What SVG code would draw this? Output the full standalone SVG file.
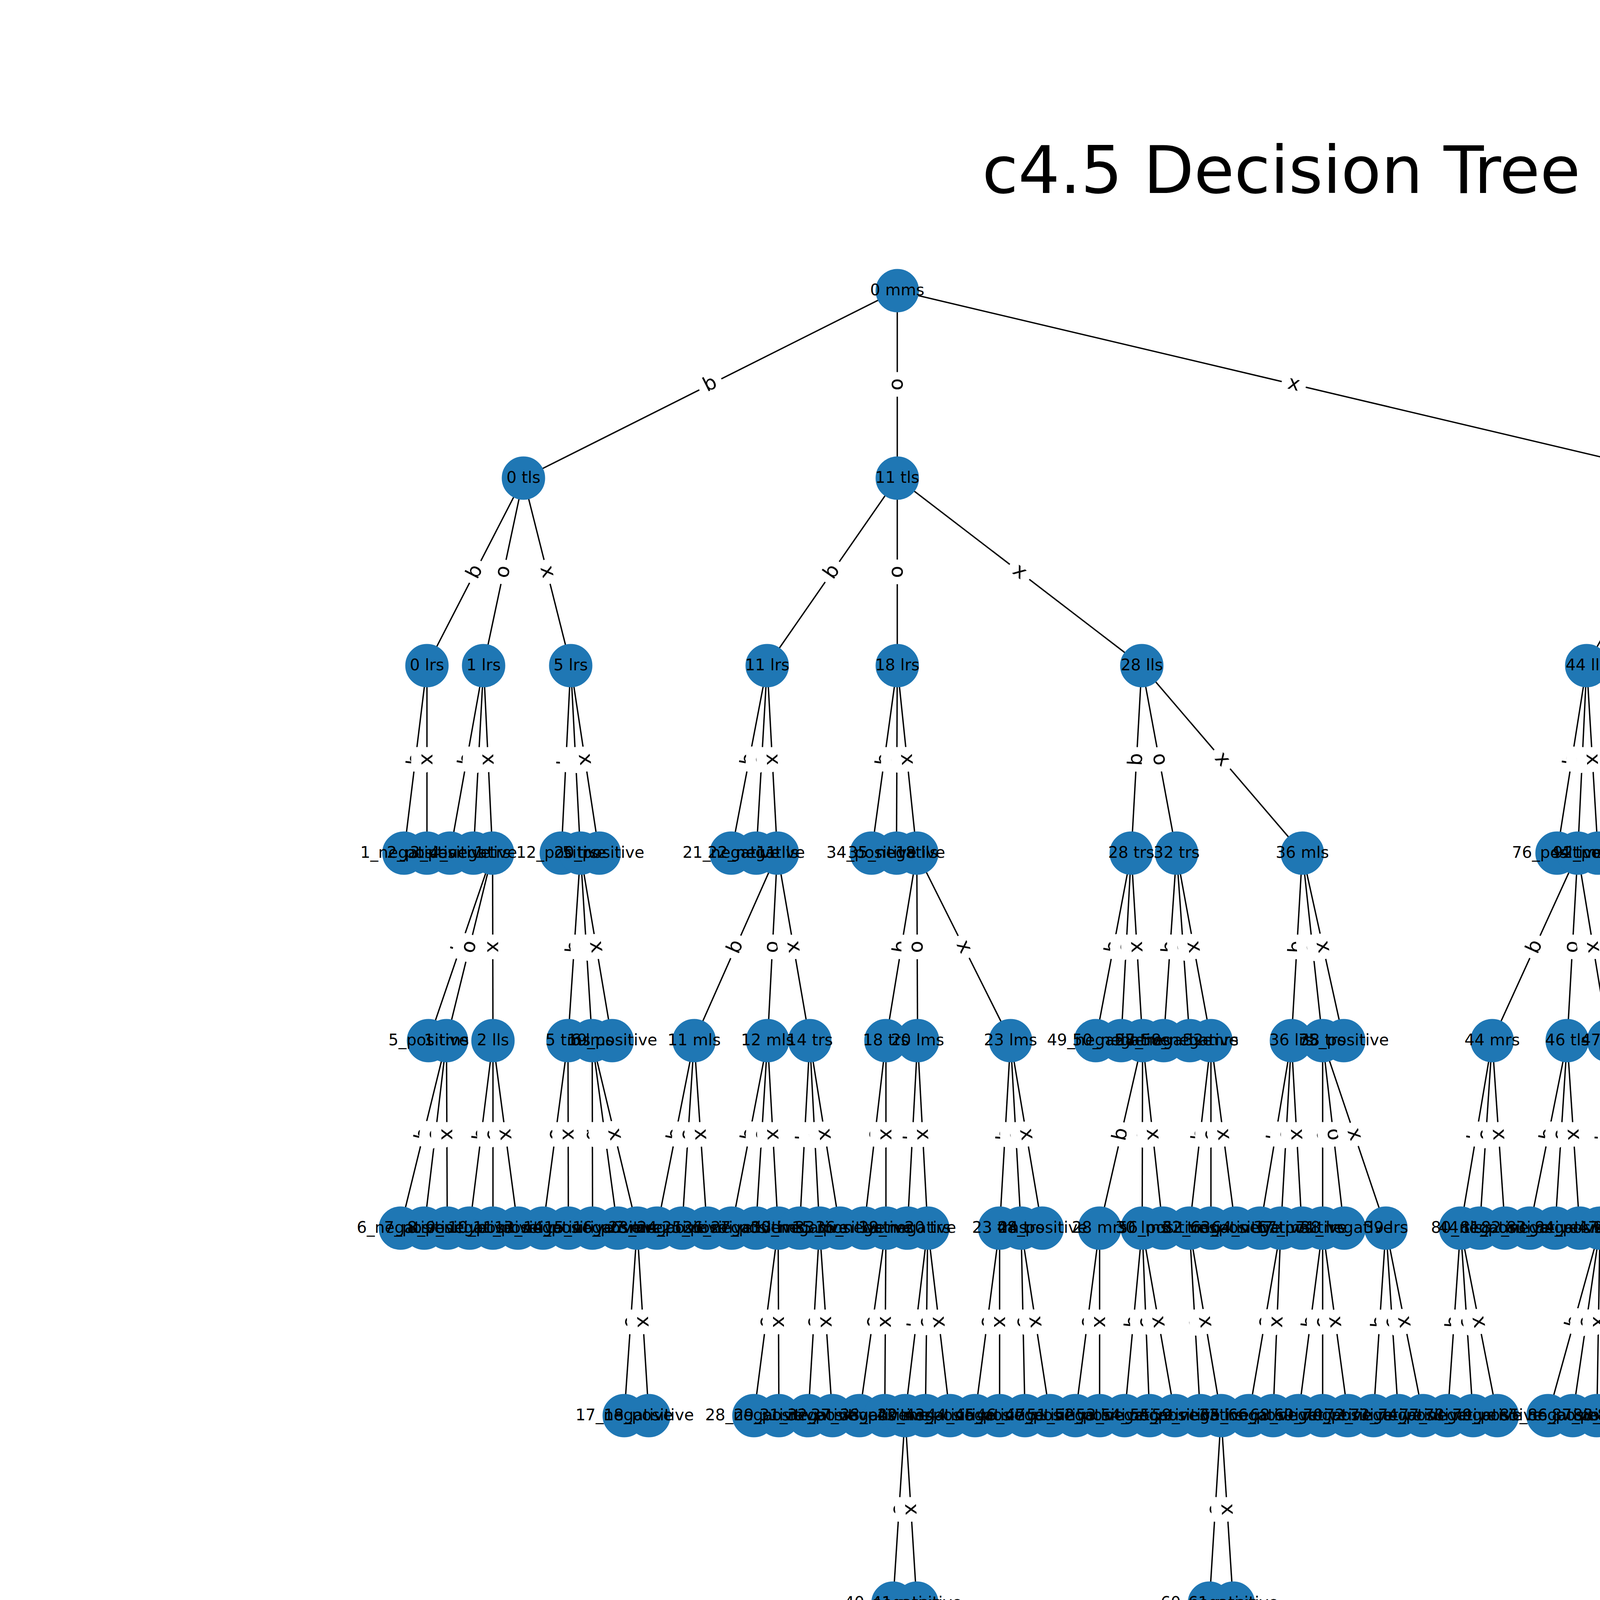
<svg xmlns="http://www.w3.org/2000/svg" width="6400" height="4800" viewBox="0 0 6400 4800">
<style>
#edges line{stroke:#000;stroke-width:3.5}
#nodes circle{fill:#1f77b4;stroke:#1f77b4;stroke-width:2}
#labels text{font-family:"DejaVu Sans","Liberation Sans",sans-serif;font-size:40.6px;text-anchor:middle;fill:#000}
.el{font-family:"DejaVu Sans","Liberation Sans",sans-serif;font-size:50.8px;text-anchor:middle;fill:#000}
.title{font-family:"DejaVu Sans","Liberation Sans",sans-serif;font-size:168px;text-anchor:middle;fill:#000}
</style>
<defs>
<g id="Lb"><rect x="-31" y="-40" width="62" height="80" rx="15" fill="#fff" stroke="#fff"/><text class="el" y="14">b</text></g>
<g id="Lo"><rect x="-31" y="-40" width="62" height="80" rx="15" fill="#fff" stroke="#fff"/><text class="el" y="14">o</text></g>
<g id="Lx"><rect x="-31" y="-40" width="62" height="80" rx="15" fill="#fff" stroke="#fff"/><text class="el" y="14">x</text></g>
</defs>
<rect width="6400" height="4800" fill="#fff"/>
<text class="title" x="3280" y="494">c4.5 Decision Tree</text>
<g id="edges">
<line x1="2297" y1="744" x2="1340" y2="1224"/><line x1="2297" y1="744" x2="2297" y2="1224"/><line x1="2297" y1="744" x2="4327" y2="1224"/>
<line x1="1340" y1="1224" x2="1093" y2="1704"/><line x1="1340" y1="1224" x2="1238" y2="1704"/><line x1="1340" y1="1224" x2="1461" y2="1704"/>
<line x1="1093" y1="1704" x2="1034" y2="2184"/><line x1="1093" y1="1704" x2="1093" y2="2184"/>
<line x1="1238" y1="1704" x2="1152" y2="2184"/><line x1="1238" y1="1704" x2="1212" y2="2184"/><line x1="1238" y1="1704" x2="1261" y2="2184"/>
<line x1="1261" y1="2184" x2="1097" y2="2664"/><line x1="1261" y1="2184" x2="1143" y2="2664"/><line x1="1261" y1="2184" x2="1262" y2="2664"/>
<line x1="1143" y1="2664" x2="1025" y2="3144"/><line x1="1143" y1="2664" x2="1086" y2="3144"/><line x1="1143" y1="2664" x2="1145" y2="3144"/>
<line x1="1262" y1="2664" x2="1202" y2="3144"/><line x1="1262" y1="2664" x2="1262" y2="3144"/><line x1="1262" y1="2664" x2="1326" y2="3144"/>
<line x1="1461" y1="1704" x2="1437" y2="2184"/><line x1="1461" y1="1704" x2="1486" y2="2184"/><line x1="1461" y1="1704" x2="1534" y2="2184"/>
<line x1="1486" y1="2184" x2="1454" y2="2664"/><line x1="1486" y1="2184" x2="1516" y2="2664"/><line x1="1486" y1="2184" x2="1567" y2="2664"/>
<line x1="1454" y1="2664" x2="1390" y2="3144"/><line x1="1454" y1="2664" x2="1455" y2="3144"/>
<line x1="1516" y1="2664" x2="1517" y2="3144"/><line x1="1516" y1="2664" x2="1581" y2="3144"/><line x1="1516" y1="2664" x2="1631" y2="3144"/>
<line x1="1631" y1="3144" x2="1598" y2="3624"/><line x1="1631" y1="3144" x2="1661" y2="3624"/>
<line x1="2297" y1="1224" x2="1964" y2="1704"/><line x1="2297" y1="1224" x2="2297" y2="1704"/><line x1="2297" y1="1224" x2="2923" y2="1704"/>
<line x1="1964" y1="1704" x2="1872" y2="2184"/><line x1="1964" y1="1704" x2="1936" y2="2184"/><line x1="1964" y1="1704" x2="1990" y2="2184"/>
<line x1="1990" y1="2184" x2="1777" y2="2664"/><line x1="1990" y1="2184" x2="1965" y2="2664"/><line x1="1990" y1="2184" x2="2073" y2="2664"/>
<line x1="1777" y1="2664" x2="1682" y2="3144"/><line x1="1777" y1="2664" x2="1746" y2="3144"/><line x1="1777" y1="2664" x2="1810" y2="3144"/>
<line x1="1965" y1="2664" x2="1873" y2="3144"/><line x1="1965" y1="2664" x2="1935" y2="3144"/><line x1="1965" y1="2664" x2="1992" y2="3144"/>
<line x1="1992" y1="3144" x2="1930" y2="3624"/><line x1="1992" y1="3144" x2="1994" y2="3624"/>
<line x1="2073" y1="2664" x2="2047" y2="3144"/><line x1="2073" y1="2664" x2="2098" y2="3144"/><line x1="2073" y1="2664" x2="2150" y2="3144"/>
<line x1="2098" y1="3144" x2="2069" y2="3624"/><line x1="2098" y1="3144" x2="2131" y2="3624"/>
<line x1="2297" y1="1704" x2="2231" y2="2184"/><line x1="2297" y1="1704" x2="2295" y2="2184"/><line x1="2297" y1="1704" x2="2347" y2="2184"/>
<line x1="2347" y1="2184" x2="2268" y2="2664"/><line x1="2347" y1="2184" x2="2349" y2="2664"/><line x1="2347" y1="2184" x2="2587" y2="2664"/>
<line x1="2268" y1="2664" x2="2212" y2="3144"/><line x1="2268" y1="2664" x2="2268" y2="3144"/>
<line x1="2268" y1="3144" x2="2200" y2="3624"/><line x1="2268" y1="3144" x2="2265" y2="3624"/>
<line x1="2349" y1="2664" x2="2323" y2="3144"/><line x1="2349" y1="2664" x2="2375" y2="3144"/>
<line x1="2375" y1="3144" x2="2317" y2="3624"/><line x1="2375" y1="3144" x2="2369" y2="3624"/><line x1="2375" y1="3144" x2="2432" y2="3624"/>
<line x1="2317" y1="3624" x2="2286" y2="4104"/><line x1="2317" y1="3624" x2="2347" y2="4104"/>
<line x1="2587" y1="2664" x2="2559" y2="3144"/><line x1="2587" y1="2664" x2="2614" y2="3144"/><line x1="2587" y1="2664" x2="2668" y2="3144"/>
<line x1="2559" y1="3144" x2="2496" y2="3624"/><line x1="2559" y1="3144" x2="2559" y2="3624"/>
<line x1="2614" y1="3144" x2="2624" y2="3624"/><line x1="2614" y1="3144" x2="2688" y2="3624"/>
<line x1="2923" y1="1704" x2="2896" y2="2184"/><line x1="2923" y1="1704" x2="3012" y2="2184"/><line x1="2923" y1="1704" x2="3334" y2="2184"/>
<line x1="2896" y1="2184" x2="2805" y2="2664"/><line x1="2896" y1="2184" x2="2870" y2="2664"/><line x1="2896" y1="2184" x2="2925" y2="2664"/>
<line x1="2925" y1="2664" x2="2815" y2="3144"/><line x1="2925" y1="2664" x2="2924" y2="3144"/><line x1="2925" y1="2664" x2="2977" y2="3144"/>
<line x1="2815" y1="3144" x2="2753" y2="3624"/><line x1="2815" y1="3144" x2="2815" y2="3624"/>
<line x1="2924" y1="3144" x2="2879" y2="3624"/><line x1="2924" y1="3144" x2="2943" y2="3624"/><line x1="2924" y1="3144" x2="3008" y2="3624"/>
<line x1="3012" y1="2184" x2="2979" y2="2664"/><line x1="3012" y1="2184" x2="3046" y2="2664"/><line x1="3012" y1="2184" x2="3100" y2="2664"/>
<line x1="3100" y1="2664" x2="3045" y2="3144"/><line x1="3100" y1="2664" x2="3100" y2="3144"/><line x1="3100" y1="2664" x2="3163" y2="3144"/>
<line x1="3045" y1="3144" x2="3073" y2="3624"/><line x1="3045" y1="3144" x2="3126" y2="3624"/>
<line x1="3126" y1="3624" x2="3096" y2="4104"/><line x1="3126" y1="3624" x2="3157" y2="4104"/>
<line x1="3334" y1="2184" x2="3306" y2="2664"/><line x1="3334" y1="2184" x2="3386" y2="2664"/><line x1="3334" y1="2184" x2="3440" y2="2664"/>
<line x1="3306" y1="2664" x2="3226" y2="3144"/><line x1="3306" y1="2664" x2="3279" y2="3144"/><line x1="3306" y1="2664" x2="3333" y2="3144"/>
<line x1="3279" y1="3144" x2="3197" y2="3624"/><line x1="3279" y1="3144" x2="3259" y2="3624"/>
<line x1="3386" y1="2664" x2="3386" y2="3144"/><line x1="3386" y1="2664" x2="3441" y2="3144"/><line x1="3386" y1="2664" x2="3548" y2="3144"/>
<line x1="3386" y1="3144" x2="3324" y2="3624"/><line x1="3386" y1="3144" x2="3386" y2="3624"/><line x1="3386" y1="3144" x2="3451" y2="3624"/>
<line x1="3548" y1="3144" x2="3516" y2="3624"/><line x1="3548" y1="3144" x2="3580" y2="3624"/><line x1="3548" y1="3144" x2="3643" y2="3624"/>
<line x1="4327" y1="1224" x2="4062" y2="1704"/><line x1="4327" y1="1224" x2="4409" y2="1704"/><line x1="4327" y1="1224" x2="5152" y2="1704"/>
<line x1="4062" y1="1704" x2="3986" y2="2184"/><line x1="4062" y1="1704" x2="4039" y2="2184"/><line x1="4062" y1="1704" x2="4091" y2="2184"/>
<line x1="4039" y1="2184" x2="3820" y2="2664"/><line x1="4039" y1="2184" x2="4012" y2="2664"/><line x1="4039" y1="2184" x2="4118" y2="2664"/>
<line x1="3820" y1="2664" x2="3739" y2="3144"/><line x1="3820" y1="2664" x2="3788" y2="3144"/><line x1="3820" y1="2664" x2="3853" y2="3144"/>
<line x1="3739" y1="3144" x2="3706" y2="3624"/><line x1="3739" y1="3144" x2="3771" y2="3624"/><line x1="3739" y1="3144" x2="3833" y2="3624"/>
<line x1="4012" y1="2664" x2="3916" y2="3144"/><line x1="4012" y1="2664" x2="3981" y2="3144"/><line x1="4012" y1="2664" x2="4044" y2="3144"/>
<line x1="4118" y1="2664" x2="4096" y2="3144"/><line x1="4118" y1="2664" x2="4143" y2="3144"/><line x1="4118" y1="2664" x2="4194" y2="3144"/>
<line x1="4096" y1="3144" x2="3963" y2="3624"/><line x1="4096" y1="3144" x2="4026" y2="3624"/><line x1="4096" y1="3144" x2="4088" y2="3624"/>
<line x1="4143" y1="3144" x2="4151" y2="3624"/><line x1="4143" y1="3144" x2="4214" y2="3624"/><line x1="4143" y1="3144" x2="4278" y2="3624"/>
<line x1="4409" y1="1704" x2="4379" y2="2184"/><line x1="4409" y1="1704" x2="4538" y2="2184"/><line x1="4409" y1="1704" x2="4832" y2="2184"/>
<line x1="4379" y1="2184" x2="4301" y2="2664"/><line x1="4379" y1="2184" x2="4352" y2="2664"/><line x1="4379" y1="2184" x2="4402" y2="2664"/>
<line x1="4352" y1="2664" x2="4257" y2="3144"/><line x1="4352" y1="2664" x2="4320" y2="3144"/><line x1="4352" y1="2664" x2="4384" y2="3144"/>
<line x1="4538" y1="2184" x2="4510" y2="2664"/><line x1="4538" y1="2184" x2="4564" y2="2664"/><line x1="4538" y1="2184" x2="4662" y2="2664"/>
<line x1="4510" y1="2664" x2="4447" y2="3144"/><line x1="4510" y1="2664" x2="4508" y2="3144"/><line x1="4510" y1="2664" x2="4578" y2="3144"/>
<line x1="4662" y1="2664" x2="4635" y2="3144"/><line x1="4662" y1="2664" x2="4688" y2="3144"/><line x1="4662" y1="2664" x2="4757" y2="3144"/>
<line x1="4635" y1="3144" x2="4564" y2="3624"/><line x1="4635" y1="3144" x2="4633" y2="3624"/><line x1="4635" y1="3144" x2="4702" y2="3624"/>
<line x1="4832" y1="2184" x2="4805" y2="2664"/><line x1="4832" y1="2184" x2="4860" y2="2664"/><line x1="4832" y1="2184" x2="4917" y2="2664"/>
<line x1="4860" y1="2664" x2="4826" y2="3144"/><line x1="4860" y1="2664" x2="4895" y2="3144"/><line x1="4860" y1="2664" x2="4951" y2="3144"/>
<line x1="4951" y1="3144" x2="4867" y2="3624"/><line x1="4951" y1="3144" x2="4937" y2="3624"/><line x1="4951" y1="3144" x2="4993" y2="3624"/>
<line x1="4993" y1="3624" x2="4959" y2="4104"/><line x1="4993" y1="3624" x2="5027" y2="4104"/>
<line x1="5152" y1="1704" x2="5126" y2="2184"/><line x1="5152" y1="1704" x2="5180" y2="2184"/><line x1="5152" y1="1704" x2="5233" y2="2184"/>
<line x1="5180" y1="2184" x2="5118" y2="2664"/><line x1="5180" y1="2184" x2="5247" y2="2664"/><line x1="5180" y1="2184" x2="5439" y2="2664"/>
<line x1="5118" y1="2664" x2="5036" y2="3144"/><line x1="5118" y1="2664" x2="5090" y2="3144"/><line x1="5118" y1="2664" x2="5147" y2="3144"/>
<line x1="5090" y1="3144" x2="5049" y2="3624"/><line x1="5090" y1="3144" x2="5117" y2="3624"/><line x1="5090" y1="3144" x2="5187" y2="3624"/>
<line x1="5247" y1="2664" x2="5214" y2="3144"/><line x1="5247" y1="2664" x2="5283" y2="3144"/><line x1="5247" y1="2664" x2="5341" y2="3144"/>
<line x1="5341" y1="3144" x2="5257" y2="3624"/><line x1="5341" y1="3144" x2="5328" y2="3624"/><line x1="5341" y1="3144" x2="5398" y2="3624"/>
<line x1="5439" y1="2664" x2="5412" y2="3144"/><line x1="5439" y1="2664" x2="5466" y2="3144"/><line x1="5439" y1="2664" x2="5518" y2="3144"/>
<line x1="5466" y1="3144" x2="5466" y2="3624"/><line x1="5466" y1="3144" x2="5535" y2="3624"/>
</g>
<g id="edge-labels">
<use href="#Lb" transform="translate(1818.5,984) rotate(-26.64)"/><use href="#Lo" transform="translate(2297,984) rotate(90)"/><use href="#Lx" transform="translate(3312,984) rotate(13.3)"/>
<use href="#Lb" transform="translate(1216.5,1464) rotate(-62.77)"/><use href="#Lo" transform="translate(1289,1464) rotate(-78)"/><use href="#Lx" transform="translate(1400.5,1464) rotate(75.85)"/>
<use href="#Lb" transform="translate(1063.5,1944) rotate(-82.99)"/><use href="#Lx" transform="translate(1093,1944) rotate(90)"/>
<use href="#Lb" transform="translate(1195,1944) rotate(-79.84)"/><use href="#Lo" transform="translate(1225,1944) rotate(-86.9)"/><use href="#Lx" transform="translate(1249.5,1944) rotate(87.26)"/>
<use href="#Lb" transform="translate(1179,2424) rotate(-71.14)"/><use href="#Lo" transform="translate(1202,2424) rotate(-76.19)"/><use href="#Lx" transform="translate(1261.5,2424) rotate(89.88)"/>
<use href="#Lb" transform="translate(1084,2904) rotate(-76.19)"/><use href="#Lo" transform="translate(1114.5,2904) rotate(-83.23)"/><use href="#Lx" transform="translate(1144,2904) rotate(89.76)"/>
<use href="#Lb" transform="translate(1232,2904) rotate(-82.87)"/><use href="#Lo" transform="translate(1262,2904) rotate(90)"/><use href="#Lx" transform="translate(1294,2904) rotate(82.41)"/>
<use href="#Lb" transform="translate(1449,1944) rotate(-87.14)"/><use href="#Lo" transform="translate(1473.5,1944) rotate(87.02)"/><use href="#Lx" transform="translate(1497.5,1944) rotate(81.35)"/>
<use href="#Lb" transform="translate(1470,2424) rotate(-86.19)"/><use href="#Lo" transform="translate(1501,2424) rotate(86.42)"/><use href="#Lx" transform="translate(1526.5,2424) rotate(80.42)"/>
<use href="#Lo" transform="translate(1422,2904) rotate(-82.41)"/><use href="#Lx" transform="translate(1454.5,2904) rotate(89.88)"/>
<use href="#Lb" transform="translate(1516.5,2904) rotate(89.88)"/><use href="#Lo" transform="translate(1548.5,2904) rotate(82.29)"/><use href="#Lx" transform="translate(1573.5,2904) rotate(76.53)"/>
<use href="#Lo" transform="translate(1614.5,3384) rotate(-86.07)"/><use href="#Lx" transform="translate(1646,3384) rotate(86.42)"/>
<use href="#Lb" transform="translate(2130.5,1464) rotate(-55.24)"/><use href="#Lo" transform="translate(2297,1464) rotate(90)"/><use href="#Lx" transform="translate(2610,1464) rotate(37.48)"/>
<use href="#Lb" transform="translate(1918,1944) rotate(-79.15)"/><use href="#Lo" transform="translate(1950,1944) rotate(-86.66)"/><use href="#Lx" transform="translate(1977,1944) rotate(86.9)"/>
<use href="#Lb" transform="translate(1883.5,2424) rotate(-66.07)"/><use href="#Lo" transform="translate(1977.5,2424) rotate(-87.02)"/><use href="#Lx" transform="translate(2031.5,2424) rotate(80.19)"/>
<use href="#Lb" transform="translate(1729.5,2904) rotate(-78.81)"/><use href="#Lo" transform="translate(1761.5,2904) rotate(-86.3)"/><use href="#Lx" transform="translate(1793.5,2904) rotate(86.07)"/>
<use href="#Lb" transform="translate(1919,2904) rotate(-79.15)"/><use href="#Lo" transform="translate(1950,2904) rotate(-86.42)"/><use href="#Lx" transform="translate(1978.5,2904) rotate(86.78)"/>
<use href="#Lo" transform="translate(1961,3384) rotate(-82.64)"/><use href="#Lx" transform="translate(1993,3384) rotate(89.76)"/>
<use href="#Lb" transform="translate(2060,2904) rotate(-86.9)"/><use href="#Lo" transform="translate(2085.5,2904) rotate(87.02)"/><use href="#Lx" transform="translate(2111.5,2904) rotate(80.89)"/>
<use href="#Lo" transform="translate(2083.5,3384) rotate(-86.54)"/><use href="#Lx" transform="translate(2114.5,3384) rotate(86.07)"/>
<use href="#Lb" transform="translate(2264,1944) rotate(-82.17)"/><use href="#Lo" transform="translate(2296,1944) rotate(-89.76)"/><use href="#Lx" transform="translate(2322,1944) rotate(84.05)"/>
<use href="#Lb" transform="translate(2307.5,2424) rotate(-80.65)"/><use href="#Lo" transform="translate(2348,2424) rotate(89.76)"/><use href="#Lx" transform="translate(2467,2424) rotate(63.43)"/>
<use href="#Lo" transform="translate(2240,2904) rotate(-83.35)"/><use href="#Lx" transform="translate(2268,2904) rotate(90)"/>
<use href="#Lo" transform="translate(2234,3384) rotate(-81.94)"/><use href="#Lx" transform="translate(2266.5,3384) rotate(-89.64)"/>
<use href="#Lb" transform="translate(2336,2904) rotate(-86.9)"/><use href="#Lx" transform="translate(2362,2904) rotate(86.9)"/>
<use href="#Lb" transform="translate(2346,3384) rotate(-83.11)"/><use href="#Lo" transform="translate(2372,3384) rotate(-89.28)"/><use href="#Lx" transform="translate(2403.5,3384) rotate(83.23)"/>
<use href="#Lo" transform="translate(2301.5,3864) rotate(-86.3)"/><use href="#Lx" transform="translate(2332,3864) rotate(86.42)"/>
<use href="#Lb" transform="translate(2573,2904) rotate(-86.66)"/><use href="#Lo" transform="translate(2600.5,2904) rotate(86.78)"/><use href="#Lx" transform="translate(2627.5,2904) rotate(80.42)"/>
<use href="#Lo" transform="translate(2527.5,3384) rotate(-82.52)"/><use href="#Lx" transform="translate(2559,3384) rotate(90)"/>
<use href="#Lo" transform="translate(2619,3384) rotate(88.81)"/><use href="#Lx" transform="translate(2651,3384) rotate(81.23)"/>
<use href="#Lb" transform="translate(2909.5,1944) rotate(-86.78)"/><use href="#Lo" transform="translate(2967.5,1944) rotate(79.5)"/><use href="#Lx" transform="translate(3128.5,1944) rotate(49.41)"/>
<use href="#Lb" transform="translate(2850.5,2424) rotate(-79.27)"/><use href="#Lo" transform="translate(2883,2424) rotate(-86.9)"/><use href="#Lx" transform="translate(2910.5,2424) rotate(86.54)"/>
<use href="#Lb" transform="translate(2870,2904) rotate(-77.09)"/><use href="#Lo" transform="translate(2924.5,2904) rotate(-89.88)"/><use href="#Lx" transform="translate(2951,2904) rotate(83.82)"/>
<use href="#Lo" transform="translate(2784,3384) rotate(-82.64)"/><use href="#Lx" transform="translate(2815,3384) rotate(90)"/>
<use href="#Lb" transform="translate(2901.5,3384) rotate(-84.64)"/><use href="#Lo" transform="translate(2933.5,3384) rotate(87.73)"/><use href="#Lx" transform="translate(2966,3384) rotate(80.07)"/>
<use href="#Lb" transform="translate(2995.5,2424) rotate(-86.07)"/><use href="#Lo" transform="translate(3029,2424) rotate(85.95)"/><use href="#Lx" transform="translate(3056,2424) rotate(79.61)"/>
<use href="#Lb" transform="translate(3072.5,2904) rotate(-83.46)"/><use href="#Lo" transform="translate(3100,2904) rotate(90)"/><use href="#Lx" transform="translate(3131.5,2904) rotate(82.52)"/>
<use href="#Lo" transform="translate(3059,3384) rotate(86.66)"/><use href="#Lx" transform="translate(3085.5,3384) rotate(80.42)"/>
<use href="#Lo" transform="translate(3111,3864) rotate(-86.42)"/><use href="#Lx" transform="translate(3141.5,3864) rotate(86.3)"/>
<use href="#Lb" transform="translate(3320,2424) rotate(-86.66)"/><use href="#Lo" transform="translate(3360,2424) rotate(83.82)"/><use href="#Lx" transform="translate(3387,2424) rotate(77.55)"/>
<use href="#Lb" transform="translate(3266,2904) rotate(-80.54)"/><use href="#Lo" transform="translate(3292.5,2904) rotate(-86.78)"/><use href="#Lx" transform="translate(3319.5,2904) rotate(86.78)"/>
<use href="#Lo" transform="translate(3238,3384) rotate(-80.31)"/><use href="#Lx" transform="translate(3269,3384) rotate(-87.61)"/>
<use href="#Lb" transform="translate(3386,2904) rotate(90)"/><use href="#Lo" transform="translate(3413.5,2904) rotate(83.46)"/><use href="#Lx" transform="translate(3467,2904) rotate(71.35)"/>
<use href="#Lb" transform="translate(3355,3384) rotate(-82.64)"/><use href="#Lo" transform="translate(3386,3384) rotate(90)"/><use href="#Lx" transform="translate(3418.5,3384) rotate(82.29)"/>
<use href="#Lb" transform="translate(3532,3384) rotate(-86.19)"/><use href="#Lo" transform="translate(3564,3384) rotate(86.19)"/><use href="#Lx" transform="translate(3595.5,3384) rotate(78.81)"/>
<use href="#Lb" transform="translate(4194.5,1464) rotate(-61.1)"/><use href="#Lo" transform="translate(4368,1464) rotate(80.31)"/><use href="#Lx" transform="translate(4739.5,1464) rotate(30.19)"/>
<use href="#Lb" transform="translate(4024,1944) rotate(-81)"/><use href="#Lo" transform="translate(4050.5,1944) rotate(-87.26)"/><use href="#Lx" transform="translate(4076.5,1944) rotate(86.54)"/>
<use href="#Lb" transform="translate(3929.5,2424) rotate(-65.47)"/><use href="#Lo" transform="translate(4025.5,2424) rotate(-86.78)"/><use href="#Lx" transform="translate(4078.5,2424) rotate(80.65)"/>
<use href="#Lb" transform="translate(3779.5,2904) rotate(-80.42)"/><use href="#Lo" transform="translate(3804,2904) rotate(-86.19)"/><use href="#Lx" transform="translate(3836.5,2904) rotate(86.07)"/>
<use href="#Lb" transform="translate(3722.5,3384) rotate(-86.07)"/><use href="#Lo" transform="translate(3755,3384) rotate(86.19)"/><use href="#Lx" transform="translate(3786,3384) rotate(78.92)"/>
<use href="#Lb" transform="translate(3964,2904) rotate(-78.69)"/><use href="#Lo" transform="translate(3996.5,2904) rotate(-86.3)"/><use href="#Lx" transform="translate(4028,2904) rotate(86.19)"/>
<use href="#Lb" transform="translate(4107,2904) rotate(-87.38)"/><use href="#Lo" transform="translate(4130.5,2904) rotate(87.02)"/><use href="#Lx" transform="translate(4156,2904) rotate(81)"/>
<use href="#Lb" transform="translate(4029.5,3384) rotate(-74.51)"/><use href="#Lo" transform="translate(4061,3384) rotate(-81.7)"/><use href="#Lx" transform="translate(4092,3384) rotate(-89.05)"/>
<use href="#Lb" transform="translate(4147,3384) rotate(89.05)"/><use href="#Lo" transform="translate(4178.5,3384) rotate(81.59)"/><use href="#Lx" transform="translate(4210.5,3384) rotate(74.29)"/>
<use href="#Lb" transform="translate(4394,1944) rotate(-86.42)"/><use href="#Lo" transform="translate(4473.5,1944) rotate(74.96)"/><use href="#Lx" transform="translate(4620.5,1944) rotate(48.62)"/>
<use href="#Lb" transform="translate(4340,2424) rotate(-80.77)"/><use href="#Lo" transform="translate(4365.5,2424) rotate(-86.78)"/><use href="#Lx" transform="translate(4390.5,2424) rotate(87.26)"/>
<use href="#Lb" transform="translate(4304.5,2904) rotate(-78.81)"/><use href="#Lo" transform="translate(4336,2904) rotate(-86.19)"/><use href="#Lx" transform="translate(4368,2904) rotate(86.19)"/>
<use href="#Lb" transform="translate(4524,2424) rotate(-86.66)"/><use href="#Lo" transform="translate(4551,2424) rotate(86.9)"/><use href="#Lx" transform="translate(4600,2424) rotate(75.52)"/>
<use href="#Lb" transform="translate(4478.5,2904) rotate(-82.52)"/><use href="#Lo" transform="translate(4509,2904) rotate(-89.76)"/><use href="#Lx" transform="translate(4544,2904) rotate(81.94)"/>
<use href="#Lb" transform="translate(4648.5,2904) rotate(-86.78)"/><use href="#Lo" transform="translate(4675,2904) rotate(86.9)"/><use href="#Lx" transform="translate(4709.5,2904) rotate(78.81)"/>
<use href="#Lb" transform="translate(4599.5,3384) rotate(-81.59)"/><use href="#Lo" transform="translate(4634,3384) rotate(-89.76)"/><use href="#Lx" transform="translate(4668.5,3384) rotate(82.05)"/>
<use href="#Lb" transform="translate(4818.5,2424) rotate(-86.78)"/><use href="#Lo" transform="translate(4846,2424) rotate(86.66)"/><use href="#Lx" transform="translate(4874.5,2424) rotate(79.96)"/>
<use href="#Lb" transform="translate(4843,2904) rotate(-85.95)"/><use href="#Lo" transform="translate(4877.5,2904) rotate(85.83)"/><use href="#Lx" transform="translate(4905.5,2904) rotate(79.27)"/>
<use href="#Lb" transform="translate(4909,3384) rotate(-80.07)"/><use href="#Lo" transform="translate(4944,3384) rotate(-88.33)"/><use href="#Lx" transform="translate(4972,3384) rotate(85)"/>
<use href="#Lo" transform="translate(4976,3864) rotate(-85.95)"/><use href="#Lx" transform="translate(5010,3864) rotate(85.95)"/>
<use href="#Lb" transform="translate(5139,1944) rotate(-86.9)"/><use href="#Lo" transform="translate(5166,1944) rotate(86.66)"/><use href="#Lx" transform="translate(5192.5,1944) rotate(80.42)"/>
<use href="#Lb" transform="translate(5149,2424) rotate(-82.64)"/><use href="#Lo" transform="translate(5213.5,2424) rotate(82.05)"/><use href="#Lx" transform="translate(5309.5,2424) rotate(61.65)"/>
<use href="#Lb" transform="translate(5077,2904) rotate(-80.31)"/><use href="#Lo" transform="translate(5104,2904) rotate(-86.66)"/><use href="#Lx" transform="translate(5132.5,2904) rotate(86.54)"/>
<use href="#Lb" transform="translate(5069.5,3384) rotate(-85.12)"/><use href="#Lo" transform="translate(5103.5,3384) rotate(86.78)"/><use href="#Lx" transform="translate(5138.5,3384) rotate(78.58)"/>
<use href="#Lb" transform="translate(5230.5,2904) rotate(-86.07)"/><use href="#Lo" transform="translate(5265,2904) rotate(85.71)"/><use href="#Lx" transform="translate(5294,2904) rotate(78.92)"/>
<use href="#Lb" transform="translate(5299,3384) rotate(-80.07)"/><use href="#Lo" transform="translate(5334.5,3384) rotate(-88.45)"/><use href="#Lx" transform="translate(5369.5,3384) rotate(83.23)"/>
<use href="#Lb" transform="translate(5425.5,2904) rotate(-86.78)"/><use href="#Lo" transform="translate(5452.5,2904) rotate(86.78)"/><use href="#Lx" transform="translate(5478.5,2904) rotate(80.65)"/>
<use href="#Lo" transform="translate(5466,3384) rotate(90)"/><use href="#Lx" transform="translate(5500.5,3384) rotate(81.82)"/>
</g>
<g id="nodes">
<g id="n_0_mms"><circle cx="2297" cy="744" r="54.5"/></g>
<g id="n_0_tls"><circle cx="1340" cy="1224" r="54.5"/></g>
<g id="n_0_lrs"><circle cx="1093" cy="1704" r="54.5"/></g>
<g id="n_1_negative"><circle cx="1034" cy="2184" r="54.5"/></g>
<g id="n_2_positive"><circle cx="1093" cy="2184" r="54.5"/></g>
<g id="n_1_lrs"><circle cx="1238" cy="1704" r="54.5"/></g>
<g id="n_3_positive"><circle cx="1152" cy="2184" r="54.5"/></g>
<g id="n_4_negative"><circle cx="1212" cy="2184" r="54.5"/></g>
<g id="n_1_trs"><circle cx="1261" cy="2184" r="54.5"/></g>
<g id="n_5_positive"><circle cx="1097" cy="2664" r="54.5"/></g>
<g id="n_1_tms"><circle cx="1143" cy="2664" r="54.5"/></g>
<g id="n_6_negative"><circle cx="1025" cy="3144" r="54.5"/></g>
<g id="n_7_positive"><circle cx="1086" cy="3144" r="54.5"/></g>
<g id="n_8_positive"><circle cx="1145" cy="3144" r="54.5"/></g>
<g id="n_2_lls"><circle cx="1262" cy="2664" r="54.5"/></g>
<g id="n_9_negative"><circle cx="1202" cy="3144" r="54.5"/></g>
<g id="n_10_positive"><circle cx="1262" cy="3144" r="54.5"/></g>
<g id="n_11_positive"><circle cx="1326" cy="3144" r="54.5"/></g>
<g id="n_5_lrs"><circle cx="1461" cy="1704" r="54.5"/></g>
<g id="n_12_positive"><circle cx="1437" cy="2184" r="54.5"/></g>
<g id="n_5_trs"><circle cx="1486" cy="2184" r="54.5"/></g>
<g id="n_5_tms"><circle cx="1454" cy="2664" r="54.5"/></g>
<g id="n_13_negative"><circle cx="1390" cy="3144" r="54.5"/></g>
<g id="n_14_positive"><circle cx="1455" cy="3144" r="54.5"/></g>
<g id="n_6_lms"><circle cx="1516" cy="2664" r="54.5"/></g>
<g id="n_15_negative"><circle cx="1517" cy="3144" r="54.5"/></g>
<g id="n_16_positive"><circle cx="1581" cy="3144" r="54.5"/></g>
<g id="n_7_mrs"><circle cx="1631" cy="3144" r="54.5"/></g>
<g id="n_17_negative"><circle cx="1598" cy="3624" r="54.5"/></g>
<g id="n_18_positive"><circle cx="1661" cy="3624" r="54.5"/></g>
<g id="n_19_positive"><circle cx="1567" cy="2664" r="54.5"/></g>
<g id="n_20_positive"><circle cx="1534" cy="2184" r="54.5"/></g>
<g id="n_11_tls"><circle cx="2297" cy="1224" r="54.5"/></g>
<g id="n_11_lrs"><circle cx="1964" cy="1704" r="54.5"/></g>
<g id="n_21_negative"><circle cx="1872" cy="2184" r="54.5"/></g>
<g id="n_22_negative"><circle cx="1936" cy="2184" r="54.5"/></g>
<g id="n_11_lls"><circle cx="1990" cy="2184" r="54.5"/></g>
<g id="n_11_mls"><circle cx="1777" cy="2664" r="54.5"/></g>
<g id="n_23_negative"><circle cx="1682" cy="3144" r="54.5"/></g>
<g id="n_24_positive"><circle cx="1746" cy="3144" r="54.5"/></g>
<g id="n_25_positive"><circle cx="1810" cy="3144" r="54.5"/></g>
<g id="n_12_mls"><circle cx="1965" cy="2664" r="54.5"/></g>
<g id="n_26_negative"><circle cx="1873" cy="3144" r="54.5"/></g>
<g id="n_27_positive"><circle cx="1935" cy="3144" r="54.5"/></g>
<g id="n_13_lms"><circle cx="1992" cy="3144" r="54.5"/></g>
<g id="n_28_negative"><circle cx="1930" cy="3624" r="54.5"/></g>
<g id="n_29_positive"><circle cx="1994" cy="3624" r="54.5"/></g>
<g id="n_14_trs"><circle cx="2073" cy="2664" r="54.5"/></g>
<g id="n_30_negative"><circle cx="2047" cy="3144" r="54.5"/></g>
<g id="n_15_mrs"><circle cx="2098" cy="3144" r="54.5"/></g>
<g id="n_31_negative"><circle cx="2069" cy="3624" r="54.5"/></g>
<g id="n_32_positive"><circle cx="2131" cy="3624" r="54.5"/></g>
<g id="n_33_positive"><circle cx="2150" cy="3144" r="54.5"/></g>
<g id="n_18_lrs"><circle cx="2297" cy="1704" r="54.5"/></g>
<g id="n_34_positive"><circle cx="2231" cy="2184" r="54.5"/></g>
<g id="n_35_negative"><circle cx="2295" cy="2184" r="54.5"/></g>
<g id="n_18_lls"><circle cx="2347" cy="2184" r="54.5"/></g>
<g id="n_18_trs"><circle cx="2268" cy="2664" r="54.5"/></g>
<g id="n_36_negative"><circle cx="2212" cy="3144" r="54.5"/></g>
<g id="n_18_tms"><circle cx="2268" cy="3144" r="54.5"/></g>
<g id="n_37_negative"><circle cx="2200" cy="3624" r="54.5"/></g>
<g id="n_38_positive"><circle cx="2265" cy="3624" r="54.5"/></g>
<g id="n_20_lms"><circle cx="2349" cy="2664" r="54.5"/></g>
<g id="n_39_negative"><circle cx="2323" cy="3144" r="54.5"/></g>
<g id="n_20_trs"><circle cx="2375" cy="3144" r="54.5"/></g>
<g id="n_20_mrs"><circle cx="2317" cy="3624" r="54.5"/></g>
<g id="n_40_negative"><circle cx="2286" cy="4104" r="54.5"/></g>
<g id="n_41_positive"><circle cx="2347" cy="4104" r="54.5"/></g>
<g id="n_42_negative"><circle cx="2369" cy="3624" r="54.5"/></g>
<g id="n_43_positive"><circle cx="2432" cy="3624" r="54.5"/></g>
<g id="n_23_lms"><circle cx="2587" cy="2664" r="54.5"/></g>
<g id="n_23_tms"><circle cx="2559" cy="3144" r="54.5"/></g>
<g id="n_44_negative"><circle cx="2496" cy="3624" r="54.5"/></g>
<g id="n_45_positive"><circle cx="2559" cy="3624" r="54.5"/></g>
<g id="n_24_trs"><circle cx="2614" cy="3144" r="54.5"/></g>
<g id="n_46_negative"><circle cx="2624" cy="3624" r="54.5"/></g>
<g id="n_47_positive"><circle cx="2688" cy="3624" r="54.5"/></g>
<g id="n_48_positive"><circle cx="2668" cy="3144" r="54.5"/></g>
<g id="n_28_lls"><circle cx="2923" cy="1704" r="54.5"/></g>
<g id="n_28_trs"><circle cx="2896" cy="2184" r="54.5"/></g>
<g id="n_49_negative"><circle cx="2805" cy="2664" r="54.5"/></g>
<g id="n_50_negative"><circle cx="2870" cy="2664" r="54.5"/></g>
<g id="n_28_tms"><circle cx="2925" cy="2664" r="54.5"/></g>
<g id="n_28_mrs"><circle cx="2815" cy="3144" r="54.5"/></g>
<g id="n_51_negative"><circle cx="2753" cy="3624" r="54.5"/></g>
<g id="n_52_positive"><circle cx="2815" cy="3624" r="54.5"/></g>
<g id="n_30_lms"><circle cx="2924" cy="3144" r="54.5"/></g>
<g id="n_53_negative"><circle cx="2879" cy="3624" r="54.5"/></g>
<g id="n_54_negative"><circle cx="2943" cy="3624" r="54.5"/></g>
<g id="n_55_positive"><circle cx="3008" cy="3624" r="54.5"/></g>
<g id="n_56_positive"><circle cx="2977" cy="3144" r="54.5"/></g>
<g id="n_32_trs"><circle cx="3012" cy="2184" r="54.5"/></g>
<g id="n_57_negative"><circle cx="2979" cy="2664" r="54.5"/></g>
<g id="n_58_negative"><circle cx="3046" cy="2664" r="54.5"/></g>
<g id="n_32_mrs"><circle cx="3100" cy="2664" r="54.5"/></g>
<g id="n_32_tms"><circle cx="3045" cy="3144" r="54.5"/></g>
<g id="n_59_negative"><circle cx="3073" cy="3624" r="54.5"/></g>
<g id="n_33_lrs"><circle cx="3126" cy="3624" r="54.5"/></g>
<g id="n_60_negative"><circle cx="3096" cy="4104" r="54.5"/></g>
<g id="n_61_positive"><circle cx="3157" cy="4104" r="54.5"/></g>
<g id="n_62_negative"><circle cx="3100" cy="3144" r="54.5"/></g>
<g id="n_63_positive"><circle cx="3163" cy="3144" r="54.5"/></g>
<g id="n_36_mls"><circle cx="3334" cy="2184" r="54.5"/></g>
<g id="n_36_lrs"><circle cx="3306" cy="2664" r="54.5"/></g>
<g id="n_64_negative"><circle cx="3226" cy="3144" r="54.5"/></g>
<g id="n_37_tms"><circle cx="3279" cy="3144" r="54.5"/></g>
<g id="n_65_negative"><circle cx="3197" cy="3624" r="54.5"/></g>
<g id="n_66_positive"><circle cx="3259" cy="3624" r="54.5"/></g>
<g id="n_67_positive"><circle cx="3333" cy="3144" r="54.5"/></g>
<g id="n_38_trs"><circle cx="3386" cy="2664" r="54.5"/></g>
<g id="n_38_lrs"><circle cx="3386" cy="3144" r="54.5"/></g>
<g id="n_68_negative"><circle cx="3324" cy="3624" r="54.5"/></g>
<g id="n_69_negative"><circle cx="3386" cy="3624" r="54.5"/></g>
<g id="n_70_positive"><circle cx="3451" cy="3624" r="54.5"/></g>
<g id="n_71_negative"><circle cx="3441" cy="3144" r="54.5"/></g>
<g id="n_39_lrs"><circle cx="3548" cy="3144" r="54.5"/></g>
<g id="n_72_negative"><circle cx="3516" cy="3624" r="54.5"/></g>
<g id="n_73_negative"><circle cx="3580" cy="3624" r="54.5"/></g>
<g id="n_74_positive"><circle cx="3643" cy="3624" r="54.5"/></g>
<g id="n_75_positive"><circle cx="3440" cy="2664" r="54.5"/></g>
<g id="n_44_trs"><circle cx="4327" cy="1224" r="54.5"/></g>
<g id="n_44_lls"><circle cx="4062" cy="1704" r="54.5"/></g>
<g id="n_76_positive"><circle cx="3986" cy="2184" r="54.5"/></g>
<g id="n_44_tms"><circle cx="4039" cy="2184" r="54.5"/></g>
<g id="n_44_mrs"><circle cx="3820" cy="2664" r="54.5"/></g>
<g id="n_44_tls"><circle cx="3739" cy="3144" r="54.5"/></g>
<g id="n_77_negative"><circle cx="3706" cy="3624" r="54.5"/></g>
<g id="n_78_negative"><circle cx="3771" cy="3624" r="54.5"/></g>
<g id="n_79_positive"><circle cx="3833" cy="3624" r="54.5"/></g>
<g id="n_80_negative"><circle cx="3788" cy="3144" r="54.5"/></g>
<g id="n_81_positive"><circle cx="3853" cy="3144" r="54.5"/></g>
<g id="n_46_tls"><circle cx="4012" cy="2664" r="54.5"/></g>
<g id="n_82_negative"><circle cx="3916" cy="3144" r="54.5"/></g>
<g id="n_83_negative"><circle cx="3981" cy="3144" r="54.5"/></g>
<g id="n_84_positive"><circle cx="4044" cy="3144" r="54.5"/></g>
<g id="n_47_mrs"><circle cx="4118" cy="2664" r="54.5"/></g>
<g id="n_47_lrs"><circle cx="4096" cy="3144" r="54.5"/></g>
<g id="n_85_negative"><circle cx="3963" cy="3624" r="54.5"/></g>
<g id="n_86_positive"><circle cx="4026" cy="3624" r="54.5"/></g>
<g id="n_87_positive"><circle cx="4088" cy="3624" r="54.5"/></g>
<g id="n_49_tls"><circle cx="4143" cy="3144" r="54.5"/></g>
<g id="n_88_negative"><circle cx="4151" cy="3624" r="54.5"/></g>
<g id="n_89_negative"><circle cx="4214" cy="3624" r="54.5"/></g>
<g id="n_90_positive"><circle cx="4278" cy="3624" r="54.5"/></g>
<g id="n_91_positive"><circle cx="4194" cy="3144" r="54.5"/></g>
<g id="n_92_positive"><circle cx="4091" cy="2184" r="54.5"/></g>
<g id="n_52_tls"><circle cx="4409" cy="1704" r="54.5"/></g>
<g id="n_52_mrs"><circle cx="4379" cy="2184" r="54.5"/></g>
<g id="n_93_positive"><circle cx="4301" cy="2664" r="54.5"/></g>
<g id="n_52_tms"><circle cx="4352" cy="2664" r="54.5"/></g>
<g id="n_94_negative"><circle cx="4257" cy="3144" r="54.5"/></g>
<g id="n_95_negative"><circle cx="4320" cy="3144" r="54.5"/></g>
<g id="n_96_positive"><circle cx="4384" cy="3144" r="54.5"/></g>
<g id="n_97_positive"><circle cx="4402" cy="2664" r="54.5"/></g>
<g id="n_54_tms"><circle cx="4538" cy="2184" r="54.5"/></g>
<g id="n_54_lrs"><circle cx="4510" cy="2664" r="54.5"/></g>
<g id="n_98_negative"><circle cx="4447" cy="3144" r="54.5"/></g>
<g id="n_99_negative"><circle cx="4508" cy="3144" r="54.5"/></g>
<g id="n_100_positive"><circle cx="4578" cy="3144" r="54.5"/></g>
<g id="n_101_negative"><circle cx="4564" cy="2664" r="54.5"/></g>
<g id="n_55_lrs"><circle cx="4662" cy="2664" r="54.5"/></g>
<g id="n_55_mls"><circle cx="4635" cy="3144" r="54.5"/></g>
<g id="n_102_negative"><circle cx="4564" cy="3624" r="54.5"/></g>
<g id="n_103_negative"><circle cx="4633" cy="3624" r="54.5"/></g>
<g id="n_104_negative"><circle cx="4702" cy="3624" r="54.5"/></g>
<g id="n_105_negative"><circle cx="4688" cy="3144" r="54.5"/></g>
<g id="n_106_positive"><circle cx="4757" cy="3144" r="54.5"/></g>
<g id="n_58_lrs"><circle cx="4832" cy="2184" r="54.5"/></g>
<g id="n_107_positive"><circle cx="4805" cy="2664" r="54.5"/></g>
<g id="n_58_tms"><circle cx="4860" cy="2664" r="54.5"/></g>
<g id="n_108_negative"><circle cx="4826" cy="3144" r="54.5"/></g>
<g id="n_109_positive"><circle cx="4895" cy="3144" r="54.5"/></g>
<g id="n_59_mls"><circle cx="4951" cy="3144" r="54.5"/></g>
<g id="n_110_negative"><circle cx="4867" cy="3624" r="54.5"/></g>
<g id="n_111_positive"><circle cx="4937" cy="3624" r="54.5"/></g>
<g id="n_60_lls"><circle cx="4993" cy="3624" r="54.5"/></g>
<g id="n_112_negative"><circle cx="4959" cy="4104" r="54.5"/></g>
<g id="n_113_positive"><circle cx="5027" cy="4104" r="54.5"/></g>
<g id="n_114_positive"><circle cx="4917" cy="2664" r="54.5"/></g>
<g id="n_63_lls"><circle cx="5152" cy="1704" r="54.5"/></g>
<g id="n_115_positive"><circle cx="5126" cy="2184" r="54.5"/></g>
<g id="n_63_tms"><circle cx="5180" cy="2184" r="54.5"/></g>
<g id="n_63_tls"><circle cx="5118" cy="2664" r="54.5"/></g>
<g id="n_116_negative"><circle cx="5036" cy="3144" r="54.5"/></g>
<g id="n_63_lrs"><circle cx="5090" cy="3144" r="54.5"/></g>
<g id="n_117_negative"><circle cx="5049" cy="3624" r="54.5"/></g>
<g id="n_118_negative"><circle cx="5117" cy="3624" r="54.5"/></g>
<g id="n_119_positive"><circle cx="5187" cy="3624" r="54.5"/></g>
<g id="n_120_positive"><circle cx="5147" cy="3144" r="54.5"/></g>
<g id="n_65_lms"><circle cx="5247" cy="2664" r="54.5"/></g>
<g id="n_121_negative"><circle cx="5214" cy="3144" r="54.5"/></g>
<g id="n_122_negative"><circle cx="5283" cy="3144" r="54.5"/></g>
<g id="n_66_lrs"><circle cx="5341" cy="3144" r="54.5"/></g>
<g id="n_123_negative"><circle cx="5257" cy="3624" r="54.5"/></g>
<g id="n_124_negative"><circle cx="5328" cy="3624" r="54.5"/></g>
<g id="n_125_positive"><circle cx="5398" cy="3624" r="54.5"/></g>
<g id="n_67_mrs"><circle cx="5439" cy="2664" r="54.5"/></g>
<g id="n_126_negative"><circle cx="5412" cy="3144" r="54.5"/></g>
<g id="n_67_tms"><circle cx="5466" cy="3144" r="54.5"/></g>
<g id="n_127_negative"><circle cx="5466" cy="3624" r="54.5"/></g>
<g id="n_128_positive"><circle cx="5535" cy="3624" r="54.5"/></g>
<g id="n_129_positive"><circle cx="5518" cy="3144" r="54.5"/></g>
<g id="n_130_positive"><circle cx="5233" cy="2184" r="54.5"/></g>
</g>
<g id="labels">
<text x="2297" y="756">0 mms</text>
<text x="1340" y="1236">0 tls</text>
<text x="1093" y="1716">0 lrs</text>
<text x="1034" y="2196">1_negative</text>
<text x="1093" y="2196">2_positive</text>
<text x="1238" y="1716">1 lrs</text>
<text x="1152" y="2196">3_positive</text>
<text x="1212" y="2196">4_negative</text>
<text x="1261" y="2196">1 trs</text>
<text x="1097" y="2676">5_positive</text>
<text x="1143" y="2676">1 tms</text>
<text x="1025" y="3156">6_negative</text>
<text x="1086" y="3156">7_positive</text>
<text x="1145" y="3156">8_positive</text>
<text x="1262" y="2676">2 lls</text>
<text x="1202" y="3156">9_negative</text>
<text x="1262" y="3156">10_positive</text>
<text x="1326" y="3156">11_positive</text>
<text x="1461" y="1716">5 lrs</text>
<text x="1437" y="2196">12_positive</text>
<text x="1486" y="2196">5 trs</text>
<text x="1454" y="2676">5 tms</text>
<text x="1390" y="3156">13_negative</text>
<text x="1455" y="3156">14_positive</text>
<text x="1516" y="2676">6 lms</text>
<text x="1517" y="3156">15_negative</text>
<text x="1581" y="3156">16_positive</text>
<text x="1631" y="3156">7 mrs</text>
<text x="1598" y="3636">17_negative</text>
<text x="1661" y="3636">18_positive</text>
<text x="1567" y="2676">19_positive</text>
<text x="1534" y="2196">20_positive</text>
<text x="2297" y="1236">11 tls</text>
<text x="1964" y="1716">11 lrs</text>
<text x="1872" y="2196">21_negative</text>
<text x="1936" y="2196">22_negative</text>
<text x="1990" y="2196">11 lls</text>
<text x="1777" y="2676">11 mls</text>
<text x="1682" y="3156">23_negative</text>
<text x="1746" y="3156">24_positive</text>
<text x="1810" y="3156">25_positive</text>
<text x="1965" y="2676">12 mls</text>
<text x="1873" y="3156">26_negative</text>
<text x="1935" y="3156">27_positive</text>
<text x="1992" y="3156">13 lms</text>
<text x="1930" y="3636">28_negative</text>
<text x="1994" y="3636">29_positive</text>
<text x="2073" y="2676">14 trs</text>
<text x="2047" y="3156">30_negative</text>
<text x="2098" y="3156">15 mrs</text>
<text x="2069" y="3636">31_negative</text>
<text x="2131" y="3636">32_positive</text>
<text x="2150" y="3156">33_positive</text>
<text x="2297" y="1716">18 lrs</text>
<text x="2231" y="2196">34_positive</text>
<text x="2295" y="2196">35_negative</text>
<text x="2347" y="2196">18 lls</text>
<text x="2268" y="2676">18 trs</text>
<text x="2212" y="3156">36_negative</text>
<text x="2268" y="3156">18 tms</text>
<text x="2200" y="3636">37_negative</text>
<text x="2265" y="3636">38_positive</text>
<text x="2349" y="2676">20 lms</text>
<text x="2323" y="3156">39_negative</text>
<text x="2375" y="3156">20 trs</text>
<text x="2317" y="3636">20 mrs</text>
<text x="2286" y="4116">40_negative</text>
<text x="2347" y="4116">41_positive</text>
<text x="2369" y="3636">42_negative</text>
<text x="2432" y="3636">43_positive</text>
<text x="2587" y="2676">23 lms</text>
<text x="2559" y="3156">23 tms</text>
<text x="2496" y="3636">44_negative</text>
<text x="2559" y="3636">45_positive</text>
<text x="2614" y="3156">24 trs</text>
<text x="2624" y="3636">46_negative</text>
<text x="2688" y="3636">47_positive</text>
<text x="2668" y="3156">48_positive</text>
<text x="2923" y="1716">28 lls</text>
<text x="2896" y="2196">28 trs</text>
<text x="2805" y="2676">49_negative</text>
<text x="2870" y="2676">50_negative</text>
<text x="2925" y="2676">28 tms</text>
<text x="2815" y="3156">28 mrs</text>
<text x="2753" y="3636">51_negative</text>
<text x="2815" y="3636">52_positive</text>
<text x="2924" y="3156">30 lms</text>
<text x="2879" y="3636">53_negative</text>
<text x="2943" y="3636">54_negative</text>
<text x="3008" y="3636">55_positive</text>
<text x="2977" y="3156">56_positive</text>
<text x="3012" y="2196">32 trs</text>
<text x="2979" y="2676">57_negative</text>
<text x="3046" y="2676">58_negative</text>
<text x="3100" y="2676">32 mrs</text>
<text x="3045" y="3156">32 tms</text>
<text x="3073" y="3636">59_negative</text>
<text x="3126" y="3636">33 lrs</text>
<text x="3096" y="4116">60_negative</text>
<text x="3157" y="4116">61_positive</text>
<text x="3100" y="3156">62_negative</text>
<text x="3163" y="3156">63_positive</text>
<text x="3334" y="2196">36 mls</text>
<text x="3306" y="2676">36 lrs</text>
<text x="3226" y="3156">64_negative</text>
<text x="3279" y="3156">37 tms</text>
<text x="3197" y="3636">65_negative</text>
<text x="3259" y="3636">66_positive</text>
<text x="3333" y="3156">67_positive</text>
<text x="3386" y="2676">38 trs</text>
<text x="3386" y="3156">38 lrs</text>
<text x="3324" y="3636">68_negative</text>
<text x="3386" y="3636">69_negative</text>
<text x="3451" y="3636">70_positive</text>
<text x="3441" y="3156">71_negative</text>
<text x="3548" y="3156">39 lrs</text>
<text x="3516" y="3636">72_negative</text>
<text x="3580" y="3636">73_negative</text>
<text x="3643" y="3636">74_positive</text>
<text x="3440" y="2676">75_positive</text>
<text x="4327" y="1236">44 trs</text>
<text x="4062" y="1716">44 lls</text>
<text x="3986" y="2196">76_positive</text>
<text x="4039" y="2196">44 tms</text>
<text x="3820" y="2676">44 mrs</text>
<text x="3739" y="3156">44 tls</text>
<text x="3706" y="3636">77_negative</text>
<text x="3771" y="3636">78_negative</text>
<text x="3833" y="3636">79_positive</text>
<text x="3788" y="3156">80_negative</text>
<text x="3853" y="3156">81_positive</text>
<text x="4012" y="2676">46 tls</text>
<text x="3916" y="3156">82_negative</text>
<text x="3981" y="3156">83_negative</text>
<text x="4044" y="3156">84_positive</text>
<text x="4118" y="2676">47 mrs</text>
<text x="4096" y="3156">47 lrs</text>
<text x="3963" y="3636">85_negative</text>
<text x="4026" y="3636">86_positive</text>
<text x="4088" y="3636">87_positive</text>
<text x="4143" y="3156">49 tls</text>
<text x="4151" y="3636">88_negative</text>
<text x="4214" y="3636">89_negative</text>
<text x="4278" y="3636">90_positive</text>
<text x="4194" y="3156">91_positive</text>
<text x="4091" y="2196">92_positive</text>
<text x="4409" y="1716">52 tls</text>
<text x="4379" y="2196">52 mrs</text>
<text x="4301" y="2676">93_positive</text>
<text x="4352" y="2676">52 tms</text>
<text x="4257" y="3156">94_negative</text>
<text x="4320" y="3156">95_negative</text>
<text x="4384" y="3156">96_positive</text>
<text x="4402" y="2676">97_positive</text>
<text x="4538" y="2196">54 tms</text>
<text x="4510" y="2676">54 lrs</text>
<text x="4447" y="3156">98_negative</text>
<text x="4508" y="3156">99_negative</text>
<text x="4578" y="3156">100_positive</text>
<text x="4564" y="2676">101_negative</text>
<text x="4662" y="2676">55 lrs</text>
<text x="4635" y="3156">55 mls</text>
<text x="4564" y="3636">102_negative</text>
<text x="4633" y="3636">103_negative</text>
<text x="4702" y="3636">104_negative</text>
<text x="4688" y="3156">105_negative</text>
<text x="4757" y="3156">106_positive</text>
<text x="4832" y="2196">58 lrs</text>
<text x="4805" y="2676">107_positive</text>
<text x="4860" y="2676">58 tms</text>
<text x="4826" y="3156">108_negative</text>
<text x="4895" y="3156">109_positive</text>
<text x="4951" y="3156">59 mls</text>
<text x="4867" y="3636">110_negative</text>
<text x="4937" y="3636">111_positive</text>
<text x="4993" y="3636">60 lls</text>
<text x="4959" y="4116">112_negative</text>
<text x="5027" y="4116">113_positive</text>
<text x="4917" y="2676">114_positive</text>
<text x="5152" y="1716">63 lls</text>
<text x="5126" y="2196">115_positive</text>
<text x="5180" y="2196">63 tms</text>
<text x="5118" y="2676">63 tls</text>
<text x="5036" y="3156">116_negative</text>
<text x="5090" y="3156">63 lrs</text>
<text x="5049" y="3636">117_negative</text>
<text x="5117" y="3636">118_negative</text>
<text x="5187" y="3636">119_positive</text>
<text x="5147" y="3156">120_positive</text>
<text x="5247" y="2676">65 lms</text>
<text x="5214" y="3156">121_negative</text>
<text x="5283" y="3156">122_negative</text>
<text x="5341" y="3156">66 lrs</text>
<text x="5257" y="3636">123_negative</text>
<text x="5328" y="3636">124_negative</text>
<text x="5398" y="3636">125_positive</text>
<text x="5439" y="2676">67 mrs</text>
<text x="5412" y="3156">126_negative</text>
<text x="5466" y="3156">67 tms</text>
<text x="5466" y="3636">127_negative</text>
<text x="5535" y="3636">128_positive</text>
<text x="5518" y="3156">129_positive</text>
<text x="5233" y="2196">130_positive</text>
</g>
</svg>
